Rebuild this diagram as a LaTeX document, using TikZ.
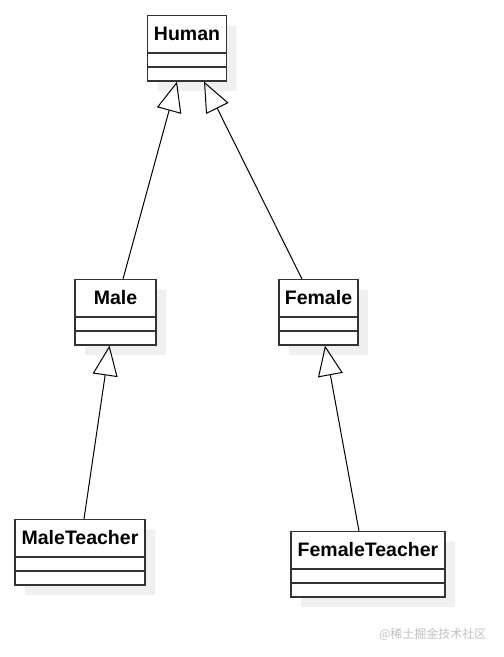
\documentclass[tikz,border=0pt]{standalone}
\usepackage{fontspec}
\setmainfont{Liberation Sans}
\newfontfamily\cjkfont{Noto Sans CJK SC}
\usetikzlibrary{shapes.multipart,arrows.meta,calc,shadows}

\newcommand{\hdstrut}{\rule[-12pt]{0pt}{36pt}}
\newcommand{\rowstrut}{\rule{0pt}{12.5pt}}

\begin{document}
\begin{tikzpicture}[x=1pt,y=1pt]

\tikzset{
    umlclass/.style={
        draw=black!80, line width=1.4pt, fill=white,
        rectangle split, rectangle split parts=3,
        inner xsep=4pt, inner ysep=0pt, anchor=north,
        font=\fontsize{19.5}{19.5}\selectfont\bfseries,
        drop shadow={shadow xshift=10pt, shadow yshift=-10pt,
          fill=black!6, opacity=1}
    },
    inherit/.style={draw, line width=1pt,
        -{Triangle[open, length=30pt, width=25pt]}},
}

  \useasboundingbox (0,0) rectangle (504,-657);

  \node [umlclass, minimum width=79pt] (human) at (187,-15)
  {\hdstrut Human\nodepart{two}\rowstrut\nodepart{three}\rowstrut};

  \node [umlclass, minimum width=81pt] (male) at (115.5,-279)
  {\hdstrut Male\nodepart{two}\rowstrut\nodepart{three}\rowstrut};

  \node [umlclass, minimum width=79pt] (female) at (318.5,-279)
  {\hdstrut Female\nodepart{two}\rowstrut\nodepart{three}\rowstrut};

  \node [umlclass, minimum width=130pt] (maleteacher) at (80,-519)
  {\hdstrut MaleTeacher\nodepart{two}\rowstrut\nodepart{three}\rowstrut};

  \node [umlclass, minimum width=154pt] (femaleteacher) at (368,-531)
  {\hdstrut FemaleTeacher\nodepart{two}\rowstrut\nodepart{three}\rowstrut};

  % generalisation arrows
  \path [inherit] ($(male.north)+(7.5,0)$) -- ($(human.south)+(-10,0)$);
  \path [inherit] ($(female.north)+(-16.5,0)$) -- ($(human.south)+(17,0)$);
  \path [inherit] ($(maleteacher.north)+(4,0)$) -- ($(male.south)+(-6,0)$);
  \path [inherit] ($(femaleteacher.north)+(-9,0)$) -- ($(female.south)+(6.5,0)$);

  \node [font=\cjkfont\fontsize{12}{12}\selectfont, text=black!25,
  anchor=east] (mark) at (490,-634) {@稀土掘金技术社区};

\end{tikzpicture}
\end{document}
